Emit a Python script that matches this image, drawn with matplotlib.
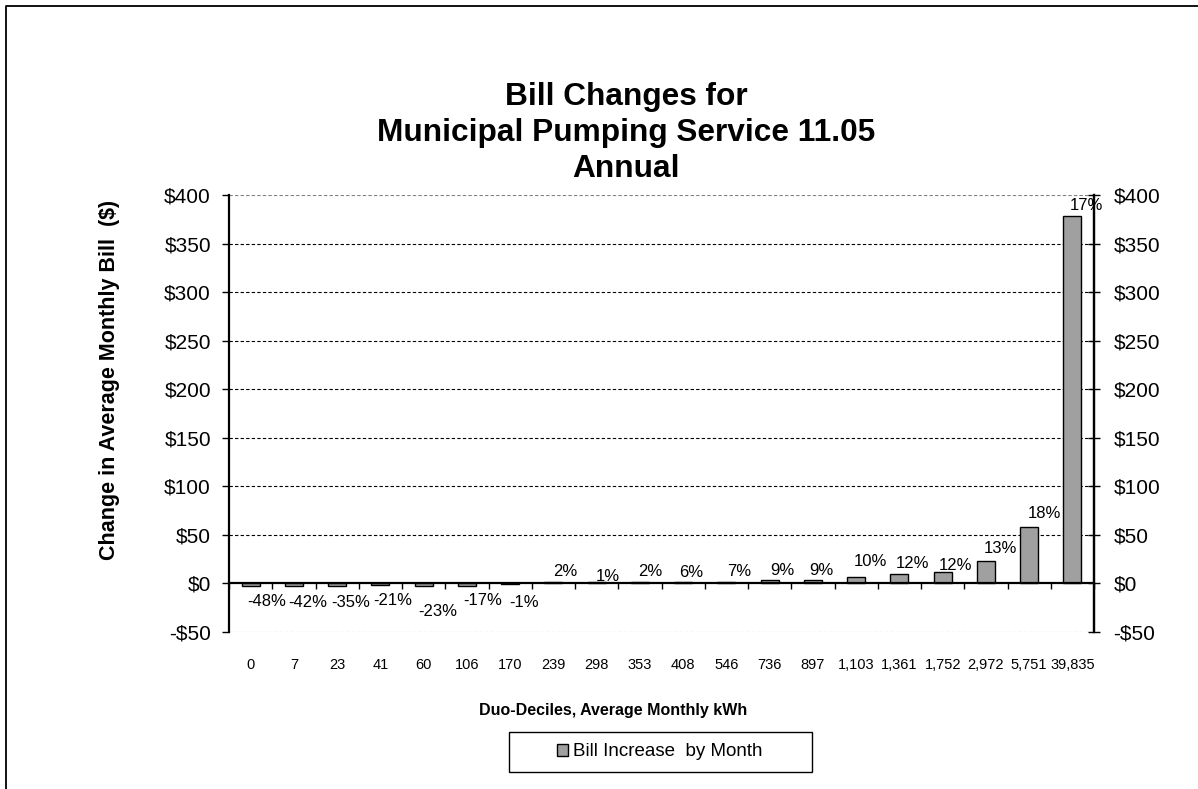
import matplotlib
matplotlib.use("Agg")
import matplotlib.pyplot as plt
from matplotlib.patches import Rectangle
from matplotlib.lines import Line2D
import numpy as np

plt.rcParams['font.family'] = ['Liberation Sans', 'DejaVu Sans']

# Duo-decile boundaries (average monthly kWh)
categories = ["0", "7", "23", "41", "60", "106", "170", "239", "298", "353",
              "408", "546", "736", "897", "1,103", "1,361", "1,752", "2,972",
              "5,751", "39,835"]
# Change in average monthly bill ($)
bill_change = [-2.5, -2.5, -2.5, -1.5, -2.5, -2.5, -1.0, 1.5, 1.0, 1.5,
               1.7, 1.7, 4.0, 4.0, 7.0, 9.5, 12.0, 23.0, 58.0, 378.0]
# Percent change labels
pct_labels = ["-48%", "-42%", "-35%", "-21%", "-23%", "-17%", "-1%", "2%", "1%", "2%",
              "6%", "7%", "9%", "9%", "10%", "12%", "12%", "13%", "18%", "17%"]
y_ticks = [-50, 0, 50, 100, 150, 200, 250, 300, 350, 400]

# label placement (x offset in px, label centre in $)
lab_dx_px = [16, 14, 14, 12, 14, 16, 14, 12, 11, 10, 8.5, 13, 13, 9, 14, 13, 13, 14.6, 15, 14]
lab_y = [-18.2, -19.2, -19.2, -17.2, -28.5, -17.2, -19.2, 12.7, 7.5, 11.9,
         11.6, 11.9, 13.0, 13.0, 22.2, 20.9, 18.8, 36.3, 72.4, 389.5]

W, H = 1198, 789
fig = plt.figure(figsize=(W / 100, H / 100), dpi=100)

# outer chart frame
fig.add_artist(Line2D([6 / W, 6 / W, 1.0], [0.0, 1 - 6 / H, 1 - 6 / H],
                      transform=fig.transFigure, color='black', lw=1.3))

ax_l, ax_r, ax_t, ax_b = 229, 1094, 195, 632
ax = fig.add_axes([ax_l / W, 1 - ax_b / H, (ax_r - ax_l) / W, (ax_b - ax_t) / H])

x = np.arange(len(categories))
bar_color = '#a0a0a0'
ax.bar(x, bill_change, width=0.42, color=bar_color, edgecolor='black', linewidth=1.0,
       zorder=3, label='Bill Increase  by Month')

ax.set_xlim(-0.5, len(categories) - 0.5)
ax.set_ylim(-50, 400)

# y gridlines
for v in y_ticks:
    if v == 0:
        continue
    c = '#808080' if v in (-50, 400) else 'black'
    ax.axhline(v, color=c, lw=0.8, ls=(0, (3, 2)), zorder=1)

# spines
ax.spines['top'].set_visible(False)
ax.spines['bottom'].set_position(('data', 0))
for s in ('left', 'right', 'bottom'):
    ax.spines[s].set_linewidth(1.6)
    ax.spines[s].set_color('black')
ax.spines['bottom'].set_zorder(4)

# x axis: category labels below plot, boundary ticks at the zero line
ax.set_xticks(x)
ax.set_xticklabels(categories, fontsize=10.5)
ax.tick_params(axis='x', which='major', length=0, pad=54)
ax.set_xticks(np.arange(len(categories) + 1) - 0.5, minor=True)
ax.tick_params(axis='x', which='minor', length=4, width=1, direction='out', color='black')

# left y axis
ax.set_yticks(y_ticks)
ax.set_yticklabels(["-$50" if v < 0 else f"${v}" for v in y_ticks], fontsize=15)
ax.tick_params(axis='y', length=5, width=1, direction='out', pad=8)

# right y axis
ax2 = ax.twinx()
ax2.set_ylim(ax.get_ylim())
ax2.set_yticks(y_ticks)
ax2.set_yticklabels(["-$50" if v < 0 else f"${v}" for v in y_ticks], fontsize=15)
ax2.tick_params(axis='y', length=8, width=1, direction='inout', pad=10)
for s in ('top', 'bottom', 'left'):
    ax2.spines[s].set_visible(False)
ax2.spines['right'].set_linewidth(1.6)

# data labels
px_per_cat = (ax_r - ax_l) / len(categories)
for i, (lab, dx, ly) in enumerate(zip(pct_labels, lab_dx_px, lab_y)):
    ax.text(x[i] + dx / px_per_cat, ly, lab, ha='center', va='center', fontsize=12, zorder=5)

ax.set_ylabel("Change in Average Monthly Bill  ($)", fontsize=15.5, fontweight='bold')
ax.yaxis.set_label_coords((120 - ax_l) / (ax_r - ax_l), (ax_b - 380) / (ax_b - ax_t))

fig.text(613 / W, 1 - 711 / H, "Duo-Deciles, Average Monthly kWh", ha='center', va='center',
         fontsize=11.5, fontweight='bold')

fig.text(626 / W, 1 - 133 / H, "Bill Changes for\nMunicipal Pumping Service 11.05\nAnnual",
         ha='center', va='center', fontsize=22.8, fontweight='bold', linespacing=1.25)

# legend box
lx0, lx1, ly0, ly1 = 509, 812, 732, 772
fig.add_artist(Rectangle((lx0 / W, 1 - ly1 / H), (lx1 - lx0) / W, (ly1 - ly0) / H,
                         transform=fig.transFigure, fill=False, edgecolor='black', lw=1.0))
fig.legend(loc='center', bbox_to_anchor=(660 / W, 1 - 752 / H), frameon=False,
           fontsize=13.5, handlelength=0.55, handleheight=0.55, handletextpad=0.3)

fig.savefig("out.png", dpi=100)
